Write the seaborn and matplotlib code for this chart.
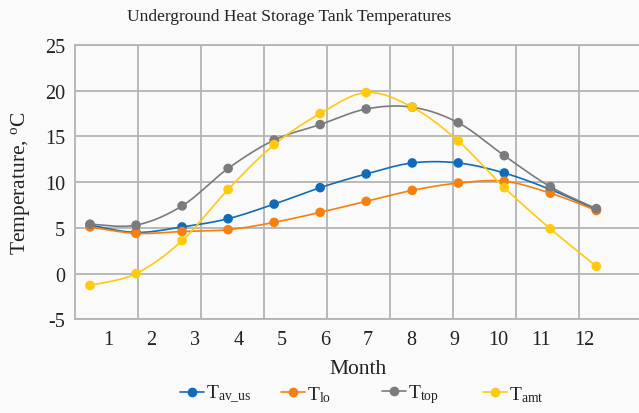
import numpy as np
import pandas as pd
import matplotlib
matplotlib.use("Agg")
import matplotlib.pyplot as plt
import seaborn as sns
from matplotlib.lines import Line2D

# Monthly tank temperatures, degrees C
months = [1, 2, 3, 4, 5, 6, 7, 8, 9, 10, 11, 12]
month_labels = ["1", "2", "3", "4", "5", "6", "7", "8", "9", "10", "11", "12"]
t_av_us = [5.3, 4.5, 5.1, 6.0, 7.6, 9.4, 10.9, 12.1, 12.1, 11.0, 9.2, 7.0]
t_lo = [5.1, 4.4, 4.6, 4.8, 5.6, 6.7, 7.9, 9.1, 9.9, 10.1, 8.8, 6.9]
t_top = [5.4, 5.3, 7.4, 11.5, 14.6, 16.3, 18.0, 18.2, 16.5, 12.9, 9.5, 7.1]
t_amt = [-1.3, 0.0, 3.6, 9.2, 14.1, 17.5, 19.8, 18.2, 14.5, 9.4, 4.9, 0.8]

series_keys = ["av_us", "lo", "top", "amt"]
series_values = [t_av_us, t_lo, t_top, t_amt]
series_colors = ["#116BBA", "#F5800E", "#7B7B7B", "#FFC90E"]
legend_labels = [r"T$_{\mathrm{av\_us}}$", r"T$_{\mathrm{lo}}$",
                 r"T$_{\mathrm{top}}$", r"T$_{\mathrm{amt}}$"]

sns.set_theme(style="white")
plt.rcParams["font.family"] = ["Liberation Serif", "DejaVu Serif"]
plt.rcParams["mathtext.fontset"] = "custom"
plt.rcParams["mathtext.rm"] = "Liberation Serif"
plt.rcParams["mathtext.it"] = "Liberation Serif:italic"
plt.rcParams["mathtext.bf"] = "Liberation Serif:bold"
plt.rcParams["axes.unicode_minus"] = False

BG = "#FAFAFA"
GRID = "#B4B4B4"


def smooth_curve(x, y, n=40):
    """Catmull-Rom spline through the points (same shape as smoothed chart lines)."""
    pts = np.column_stack([x, y]).astype(float)
    P = np.vstack([pts[0], pts, pts[-1]])
    t = np.linspace(0, 1, n)[:, None]
    segs = []
    for i in range(len(pts) - 1):
        p0, p1, p2, p3 = P[i], P[i + 1], P[i + 2], P[i + 3]
        seg = 0.5 * (2 * p1 + (-p0 + p2) * t + (2 * p0 - 5 * p1 + 4 * p2 - p3) * t ** 2
                     + (-p0 + 3 * p1 - 3 * p2 + p3) * t ** 3)
        segs.append(seg if i == 0 else seg[1:])
    out = np.vstack(segs)
    return out[:, 0], out[:, 1]


fig = plt.figure(figsize=(6.39, 4.14), dpi=100, facecolor=BG)
ax = fig.add_axes([74.7 / 639, 93.7 / 414, 567 / 639, 274.3 / 414], facecolor=BG)

for key, vals, color in zip(series_keys, series_values, series_colors):
    sx, sy = smooth_curve(months, vals)
    dense = pd.DataFrame({"x": sx, "y": sy})
    pts = pd.DataFrame({"x": months, "y": vals})
    sns.lineplot(data=dense, x="x", y="y", ax=ax, color=color, linewidth=1.2,
                 sort=False, estimator=None, legend=False, zorder=3)
    sns.scatterplot(data=pts, x="x", y="y", ax=ax, color=color, s=48,
                    edgecolor="none", legend=False, zorder=4)

# axis geometry
x_left, x_right = 0.6676, 12.985
ax.set_xlim(x_left, x_right)
ax.set_ylim(-5, 25)
ax.set_yticks(np.arange(-5, 26, 5))

label_pos = [1.3976 + 0.9407 * i for i in range(len(month_labels))]
ax.set_xticks(label_pos)
ax.set_xticklabels(month_labels)
ax.set_xticks(np.linspace(x_left, x_right, 10)[1:-1], minor=True)

ax.grid(axis="y", which="major", color=GRID, linewidth=1.3, zorder=0)
ax.grid(axis="x", which="minor", color=GRID, linewidth=1.3, zorder=0)
ax.grid(axis="x", which="major", visible=False)
ax.set_axisbelow(True)

ax.tick_params(axis="both", which="both", length=0, labelsize=14.5, colors="#222222")
ax.tick_params(axis="y", pad=7)
ax.tick_params(axis="x", pad=8)

for side in ["left", "top", "bottom", "right"]:
    ax.spines[side].set_color(GRID)
    ax.spines[side].set_linewidth(1.3)

ax.set_xlabel("Month", fontsize=15.5, color="#222222", labelpad=7)
ax.set_ylabel(r"Temperature, $^{\mathrm{o}}$C", fontsize=15.5, color="#222222", labelpad=9)

fig.text(289 / 639, 1 - 17 / 414, "Underground Heat Storage Tank Temperatures",
         ha="center", va="center", fontsize=12.5, color="#222222")

# legend entries laid out in equal-width slots along the bottom
slot_left = [180, 281, 382, 483]
for x0, c, lab in zip(slot_left, series_colors, legend_labels):
    h = Line2D([0], [0], color=c, linewidth=1.2, marker="o", markersize=7,
               markeredgewidth=0)
    fig.legend([h], [lab], loc="center left", bbox_to_anchor=(x0 / 639, 1 - 395 / 414),
               frameon=False, fontsize=14, handlelength=1.25, handletextpad=0.1,
               borderpad=0, borderaxespad=0, labelcolor="#222222")

fig.savefig("out.png", dpi=100, facecolor=BG)
